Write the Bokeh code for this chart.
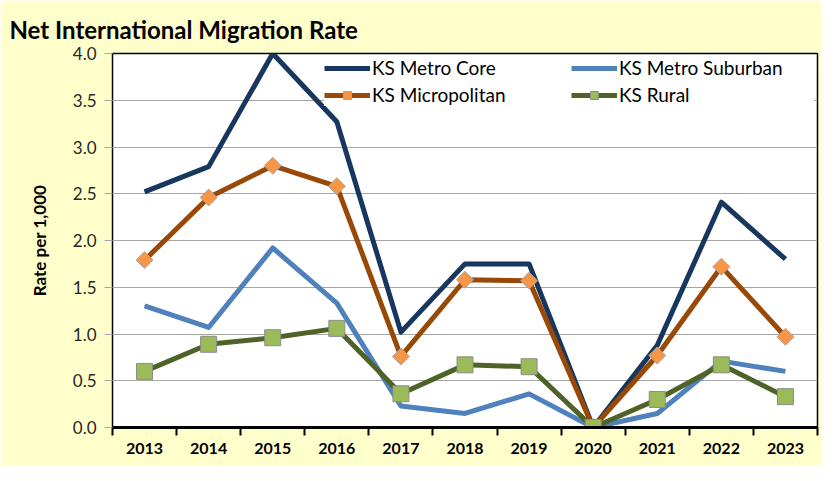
import math
from bokeh.plotting import figure
from bokeh.models import Range1d, FixedTicker, Legend, LegendItem
from bokeh.embed import file_html
from bokeh.resources import INLINE

years = ["2013", "2014", "2015", "2016", "2017", "2018", "2019", "2020", "2021", "2022", "2023"]
metro_core = [2.52, 2.79, 4.00, 3.27, 1.02, 1.75, 1.75, 0.00, 0.88, 2.41, 1.80]
metro_suburban = [1.30, 1.07, 1.92, 1.33, 0.23, 0.15, 0.36, 0.00, 0.15, 0.71, 0.60]
micropolitan = [1.79, 2.46, 2.80, 2.58, 0.76, 1.58, 1.57, 0.00, 0.77, 1.72, 0.97]
rural = [0.60, 0.89, 0.96, 1.06, 0.36, 0.67, 0.65, 0.00, 0.30, 0.67, 0.33]
y_ticks = [0.0, 0.5, 1.0, 1.5, 2.0, 2.5, 3.0, 3.5, 4.0]

idx = list(range(len(years)))
FONT = "Lato"
BG = "#FFFFCC"

p = figure(width=821, height=465, output_backend="svg", toolbar_location=None,
           x_range=Range1d(-0.5, len(years) - 0.5), y_range=Range1d(0, 4),
           title="Net International Migration Rate")
p.background_fill_color = "white"
p.border_fill_color = BG
p.min_border_left = 112
p.min_border_right = 4
p.min_border_top = 53
p.min_border_bottom = 38
p.outline_line_color = "black"
p.outline_line_width = 1.5

p.title.text_font = FONT
p.title.text_font_size = "24px"
p.title.text_font_style = "bold"
p.title.text_color = "black"
p.title.align = "left"
p.title.offset = -103
p.title.standoff = 20

# x axis
xa = p.xaxis[0]
xa.ticker = FixedTicker(ticks=idx, minor_ticks=[i - 0.5 for i in range(len(years) + 1)])
xa.major_label_overrides = {i: y for i, y in enumerate(years)}
xa.major_tick_line_color = None
xa.minor_tick_line_color = "black"
xa.minor_tick_line_width = 2
xa.minor_tick_out = 8
xa.minor_tick_in = 0
xa.axis_line_color = "black"
xa.axis_line_width = 3
xa.major_label_text_font = FONT
xa.major_label_text_font_size = "16px"
xa.major_label_text_font_style = "bold"
xa.major_label_text_color = "black"
xa.major_label_standoff = 7

# y axis
ya = p.yaxis[0]
ya.ticker = FixedTicker(ticks=y_ticks)
ya.major_label_overrides = {t: f"{t:.1f}" for t in y_ticks}
ya.axis_line_color = None
ya.major_tick_line_color = "#A6A6A6"
ya.major_tick_out = 8
ya.major_tick_in = 0
ya.minor_tick_line_color = None
ya.major_label_text_font = FONT
ya.major_label_text_font_size = "17px"
ya.major_label_text_color = "#262626"
ya.major_label_standoff = 8
ya.axis_label = "Rate per 1,000"
ya.axis_label_text_font = FONT
ya.axis_label_text_font_size = "17px"
ya.axis_label_text_font_style = "bold"
ya.axis_label_text_color = "black"
ya.axis_label_standoff = 20

p.xgrid.grid_line_color = None
p.ygrid.grid_line_color = "#A6A6A6"
p.ygrid.grid_line_width = 1

lw = 5
r_core = p.line(idx, metro_core, line_color="#17375E", line_width=lw, line_join="round")
r_sub = p.line(idx, metro_suburban, line_color="#4F81BD", line_width=lw, line_join="round")
r_mic = p.line(idx, micropolitan, line_color="#984807", line_width=lw, line_join="round")
r_mic_m = p.scatter(idx, micropolitan, marker="square", angle=math.pi / 4, size=12,
                    fill_color="#F79646", line_color="#A6A6A6", line_width=1)
r_rur = p.line(idx, rural, line_color="#4F6228", line_width=lw, line_join="round")
r_rur_m = p.scatter(idx, rural, marker="square", size=16, fill_color="#9BBB59",
                    line_color="#8C8C8C", line_width=1)

legend = Legend(items=[
    LegendItem(label="KS Metro Core", renderers=[r_core]),
    LegendItem(label="KS Micropolitan", renderers=[r_mic, r_mic_m]),
    LegendItem(label="KS Metro Suburban", renderers=[r_sub]),
    LegendItem(label="KS Rural", renderers=[r_rur, r_rur_m]),
], ncols=2, location="top_right")
legend.label_text_font = FONT
legend.label_text_font_size = "19px"
legend.label_text_color = "black"
legend.border_line_color = None
legend.background_fill_color = "white"
legend.background_fill_alpha = 1
legend.glyph_width = 46
legend.glyph_height = 20
legend.spacing = 4
legend.label_standoff = 2
legend.padding = 4
legend.margin = 3
legend.label_width = 195
p.add_layout(legend)

open("out.html", "w").write(file_html(p, INLINE))
